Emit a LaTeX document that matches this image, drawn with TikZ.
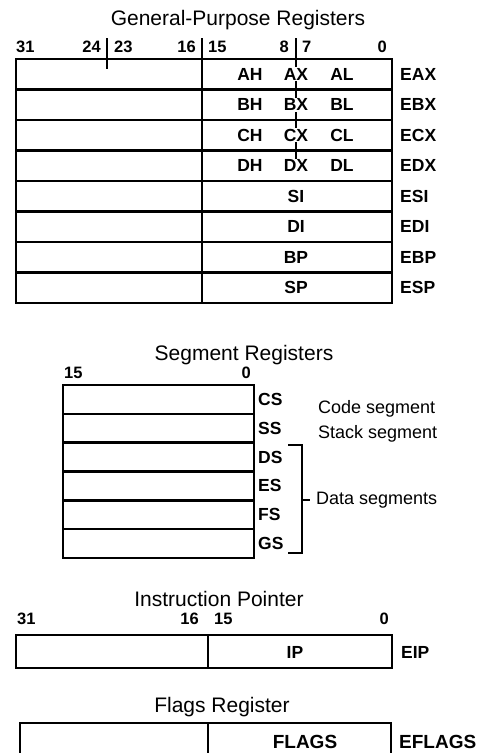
\documentclass[tikz,border=0pt]{standalone}
\usepackage{fontspec}
\setmainfont{Liberation Sans}
\begin{document}
\begin{tikzpicture}[x=1pt, y=-1pt, line width=2.4pt,
		hdr/.style={font=\fontsize{21}{21}\selectfont, anchor=base, inner sep=0pt},
		bitno/.style={font=\fontsize{16.5}{16.5}\selectfont\bfseries, inner sep=0pt},
		regname/.style={font=\fontsize{17.5}{17.5}\selectfont\bfseries, inner sep=1pt},
		note/.style={font=\fontsize{18}{18}\selectfont, inner sep=0pt}]
			\useasboundingbox (0,0) rectangle (485,753);
			
			% general-purpose registers
			\node[hdr] (gptitle) at (238,25) {General-Purpose Registers};
			\node[bitno, anchor=west] (g31) at (15,47) {31};
			\node[bitno, anchor=east] (g24) at (102,47) {24};
			\node[bitno, anchor=west] (g23) at (113,47) {23};
			\node[bitno, anchor=east] (g16) at (197,47) {16};
			\node[bitno, anchor=west] (g15) at (207,47) {15};
			\node[bitno, anchor=east] (g8) at (290,47) {8};
			\node[bitno, anchor=west] (g7) at (301,47) {7};
			\node[bitno, anchor=east] (g0) at (388,47) {0};
			
			\draw (16,59) rectangle (392,303);
			\foreach \k in {1,...,7}
				\draw (16,59+30.5*\k) -- (392,59+30.5*\k);
			\draw (107,38) -- (107,69);
			\draw (202,38) -- (202,303);
			\draw (296,38) -- (296,166);
			
			\foreach \r [count=\i from 0] in {A,B,C,D} {
				\node[regname] (\r H) at (250,74.25+30.5*\i) {\r H};
				\node[regname, fill=white] (\r X) at (296,74.25+30.5*\i) {\r X};
				\node[regname] (\r L) at (342,74.25+30.5*\i) {\r L};
			}
			\foreach \r [count=\i from 4] in {SI,DI,BP,SP}
				\node[regname] (\r) at (296,74.25+30.5*\i) {\r};
			\foreach \r [count=\i from 0] in {EAX,EBX,ECX,EDX,ESI,EDI,EBP,ESP}
				\node[regname, anchor=west] (\r) at (398,74.25+30.5*\i) {\r};
			
			% segment registers
			\node[hdr] (segtitle) at (244,360) {Segment Registers};
			\node[bitno, anchor=west] (s15) at (63,373) {15};
			\node[bitno, anchor=east] (s0) at (252,373) {0};
			
			\draw (63,385) rectangle (254,558);
			\foreach \k in {1,...,5}
				\draw (63,385+28.83*\k) -- (254,385+28.83*\k);
			\foreach \r [count=\i from 0] in {CS,SS,DS,ES,FS,GS}
				\node[regname, anchor=west] (\r) at (256,399.4+28.83*\i) {\r};
			
			\node[note, anchor=base west] (codeseg) at (317,413) {Code segment};
			\node[note, anchor=base west] (stackseg) at (317,438) {Stack segment};
			\node[note, anchor=west, inner sep=5pt] (dataseg) at (310,500) {Data segments};
			\draw[line width=1.8pt] (288,445) -- (302,445) -- (302,553) -- (288,553);
			\coordinate (brk) at (302,500);
			\draw[line width=1.8pt] (brk) -- (dataseg.west);
			
			% instruction pointer
			\node[hdr] (iptitle) at (219,606) {Instruction Pointer};
			\node[bitno, anchor=west] (i31) at (16,619) {31};
			\node[bitno, anchor=east] (i16) at (200,619) {16};
			\node[bitno, anchor=west] (i15) at (213,619) {15};
			\node[bitno, anchor=east] (i0) at (390,619) {0};
			\draw (16,635) rectangle (392,668);
			\draw (208,635) -- (208,668);
			\node[regname] (IP) at (295,652) {IP};
			\node[regname, anchor=west] (EIP) at (399,652) {EIP};
			
			% flags register, cut off at the bottom
			\node[hdr] (flagstitle) at (222,712) {Flags Register};
			\begin{scope}
				\clip (0,0) rectangle (485,753);
				\draw (20,723) rectangle (391,775);
				\draw (208,723) -- (208,775);
			\end{scope}
			\node[regname, font=\fontsize{19}{19}\selectfont\bfseries] (FLAGS) at (305,742) {FLAGS};
			\node[regname, font=\fontsize{19}{19}\selectfont\bfseries, anchor=west] (EFLAGS) at (397,742) {EFLAGS};
		\end{tikzpicture}
\end{document}
